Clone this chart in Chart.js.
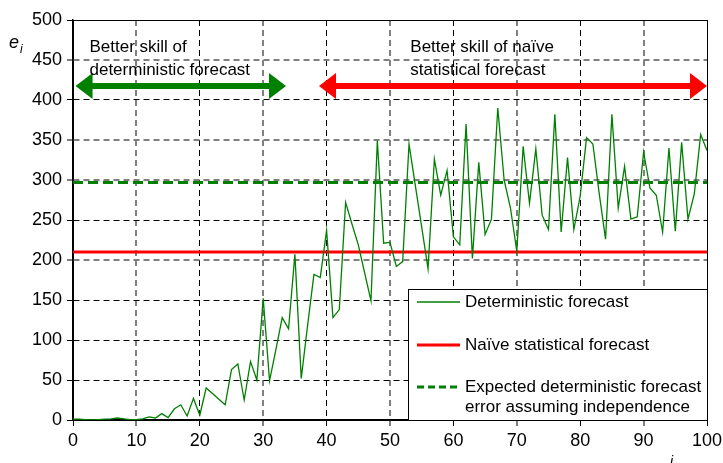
<!DOCTYPE html>
<html>
<head>
<meta charset="utf-8">
<script src="https://cdn.jsdelivr.net/npm/chart.js@4.4.1/dist/chart.umd.min.js"></script>
<style>
    html, body { margin: 0; padding: 0; background: #fff; }
    #wrap { width: 723px; height: 463px; }
</style>
</head>
<body>
<div id="wrap"><canvas id="errChart" width="723" height="463"></canvas></div>
<script>
// forecast step i
const steps = [
    0, 1, 2, 3, 4, 5, 6, 7, 8, 9,
    10, 11, 12, 13, 14, 15, 16, 17, 18, 19,
    20, 21, 22, 23, 24, 25, 26, 27, 28, 29,
    30, 31, 32, 33, 34, 35, 36, 37, 38, 39,
    40, 41, 42, 43, 44, 45, 46, 47, 48, 49,
    50, 51, 52, 53, 54, 55, 56, 57, 58, 59,
    60, 61, 62, 63, 64, 65, 66, 67, 68, 69,
    70, 71, 72, 73, 74, 75, 76, 77, 78, 79,
    80, 81, 82, 83, 84, 85, 86, 87, 88, 89,
    90, 91, 92, 93, 94, 95, 96, 97, 98, 99,
    100
];

// error e_i of the deterministic forecast
const detErrors = [
    1, 1, 0.5, 0, 0.5, 1, 1.5, 2.5, 1.5, 0.5,
    0.5, 1.5, 4, 2.5, 8, 3, 14, 19, 5, 27,
    6, 40, 33, 26, 19, 63, 70, 25, 73, 50,
    152, 49, 88, 128, 114, 207, 52, 118, 182, 178,
    237, 128, 138, 272, 245, 219, 184, 149, 349, 221,
    222, 192, 198, 345, 293, 241, 189, 326, 281, 312,
    229, 219, 370, 202, 322, 232, 251, 390, 300, 265,
    211, 342, 271, 339, 256, 238, 382, 235, 328, 238,
    280, 353, 345, 283, 226, 382, 265, 317, 251, 254,
    335, 290, 281, 235, 340, 236, 347, 251, 283, 357,
    337
];

const naiveError = 210;      // naive statistical forecast
const expectedError = 297;   // expected deterministic error assuming independence

const xRange = [0, 100];
const yRange = [0, 500];
const xStep = 10;
const yStep = 50;

const seriesNames = [
    ["Deterministic forecast"],
    ["Naïve statistical forecast"],
    ["Expected deterministic forecast", "error assuming independence"]
];

// the two "better skill" regions: [from i, to i, level e]
const detBetter = [0.4, 33.6, 417.5];
const naiveBetter = [38.8, 100, 417.5];
const detNote = ["Better skill of", "deterministic forecast"];
const naiveNote = ["Better skill of naïve", "statistical forecast"];

const GREEN = "#008000";
const RED = "#ff0000";
const TXT = '17px "Liberation Sans", Arial, sans-serif';
const TICK_FONT = { family: '"Liberation Sans", Arial, sans-serif', size: 18 };

const grayY = [450, 350, 300, 200];

function drawArrow(ctx, x1, x2, y, color) {
    const head = 17, half = 13, shaft = 3;
    ctx.save();
    ctx.fillStyle = color;
    ctx.fillRect(x1 + head - 1, y - shaft, x2 - x1 - 2 * head + 2, shaft * 2);
    ctx.beginPath();
    ctx.moveTo(x1, y);
    ctx.lineTo(x1 + head, y - half);
    ctx.lineTo(x1 + head, y + half);
    ctx.closePath();
    ctx.fill();
    ctx.beginPath();
    ctx.moveTo(x2, y);
    ctx.lineTo(x2 - head, y - half);
    ctx.lineTo(x2 - head, y + half);
    ctx.closePath();
    ctx.fill();
    ctx.restore();
}

const notesPlugin = {
    id: "notes",
    afterDatasetsDraw(chart) {
        const { ctx, scales: { x, y }, chartArea } = chart;

        // arrows and texts
        drawArrow(ctx, x.getPixelForValue(detBetter[0]), x.getPixelForValue(detBetter[1]),
            y.getPixelForValue(detBetter[2]), GREEN);
        drawArrow(ctx, x.getPixelForValue(naiveBetter[0]), x.getPixelForValue(naiveBetter[1]),
            y.getPixelForValue(naiveBetter[2]), RED);

        ctx.save();
        ctx.font = TXT;
        ctx.fillStyle = "#000";
        ctx.textBaseline = "middle";
        ctx.fillText(detNote[0], x.getPixelForValue(2.6), y.getPixelForValue(466));
        ctx.fillText(detNote[1], x.getPixelForValue(2.6), y.getPixelForValue(437));
        ctx.fillText(naiveNote[0], x.getPixelForValue(53.2), y.getPixelForValue(466));
        ctx.fillText(naiveNote[1], x.getPixelForValue(53.2), y.getPixelForValue(437));

        // legend box
        const bx = chartArea.left + 335, by = chartArea.top + 269;
        const bw = chartArea.right - bx, bh = chartArea.bottom - by;
        ctx.fillStyle = "#fff";
        ctx.fillRect(bx, by, bw, bh);
        ctx.strokeStyle = "#000";
        ctx.lineWidth = 1;
        ctx.strokeRect(bx + 0.5, by + 0.5, bw, bh);

        const rows = [by + 13, by + 56, by + 98];
        const styles = [
            { color: GREEN, width: 1.3, dash: [] },
            { color: RED, width: 3, dash: [] },
            { color: GREEN, width: 3, dash: [7, 4] }
        ];
        seriesNames.forEach((lines, k) => {
            const st = styles[k];
            ctx.beginPath();
            ctx.setLineDash(st.dash);
            ctx.strokeStyle = st.color;
            ctx.lineWidth = st.width;
            ctx.moveTo(bx + 9, rows[k]);
            ctx.lineTo(bx + 52, rows[k]);
            ctx.stroke();
            ctx.setLineDash([]);
            ctx.fillStyle = "#000";
            lines.forEach((t, j) => ctx.fillText(t, bx + 57, rows[k] + j * 20));
        });

        // axis symbols
        ctx.font = 'italic 18px "Liberation Sans", Arial, sans-serif';
        ctx.textBaseline = "alphabetic";
        ctx.fillText("e", 9, 48);
        ctx.font = 'italic 12px "Liberation Sans", Arial, sans-serif';
        ctx.fillText("i", 20, 53);
        ctx.font = 'italic 14px "Liberation Sans", Arial, sans-serif';
        ctx.fillText("i", 670, 466);
        ctx.restore();
    }
};

document.addEventListener("DOMContentLoaded", () => {
    const ctx = document.getElementById("errChart").getContext("2d");

    new Chart(ctx, {
        type: "line",
        data: {
            datasets: [
                {
                    label: seriesNames[0][0],
                    data: steps.map((s, k) => ({ x: s, y: detErrors[k] })),
                    borderColor: GREEN,
                    borderWidth: 1.3,
                    pointRadius: 0,
                    tension: 0,
                    fill: false
                },
                {
                    label: seriesNames[1][0],
                    data: [{ x: xRange[0], y: naiveError }, { x: xRange[1], y: naiveError }],
                    borderColor: RED,
                    borderWidth: 3,
                    pointRadius: 0,
                    fill: false
                },
                {
                    label: seriesNames[2].join(" "),
                    data: [{ x: xRange[0], y: expectedError }, { x: xRange[1], y: expectedError }],
                    borderColor: GREEN,
                    borderWidth: 3,
                    borderDash: [10, 5],
                    pointRadius: 0,
                    fill: false
                }
            ]
        },
        options: {
            responsive: false,
            animation: false,
            layout: { padding: { top: 20, right: 16, left: 0, bottom: 0 } },
            plugins: {
                legend: { display: false },
                tooltip: { enabled: false }
            },
            scales: {
                x: {
                    type: "linear",
                    min: xRange[0],
                    max: xRange[1],
                    afterFit: (s) => { s.height = 43; s.paddingRight = 0; s.paddingLeft = 0; },
                    ticks: {
                        stepSize: xStep,
                        color: "#000",
                        font: TICK_FONT,
                        padding: 4,
                        maxRotation: 0
                    },
                    grid: {
                        color: (c) => (c.tick && c.tick.value % 20 === 10 ? "#808080" : "#000"),
                        lineWidth: (c) => (c.tick && c.tick.value % 20 === 10 ? 2 : 1),
                        drawTicks: true,
                        tickLength: 6,
                        tickColor: "#000",
                        tickWidth: 1
                    },
                    border: {
                        color: "#000",
                        width: 1.5,
                        dash: (c) => (c.tick && (c.tick.value === 0 || c.tick.value === 100) ? [] : [6, 4])
                    }
                },
                y: {
                    min: yRange[0],
                    max: yRange[1],
                    afterFit: (s) => { s.width = 73; s.paddingTop = 0; s.paddingBottom = 0; },
                    ticks: {
                        stepSize: yStep,
                        color: "#000",
                        font: TICK_FONT,
                        padding: 5
                    },
                    grid: {
                        color: (c) => (c.tick && grayY.includes(c.tick.value) ? "#808080" : "#000"),
                        lineWidth: (c) => (c.tick && grayY.includes(c.tick.value) ? 2 : 1),
                        drawTicks: true,
                        tickLength: 6,
                        tickColor: "#000",
                        tickWidth: 1
                    },
                    border: {
                        color: "#000",
                        width: 1.5,
                        dash: (c) => (c.tick && (c.tick.value === 0 || c.tick.value === 500) ? [] : [6, 4])
                    }
                }
            }
        },
        plugins: [notesPlugin]
    });
});
</script>
</body>
</html>
